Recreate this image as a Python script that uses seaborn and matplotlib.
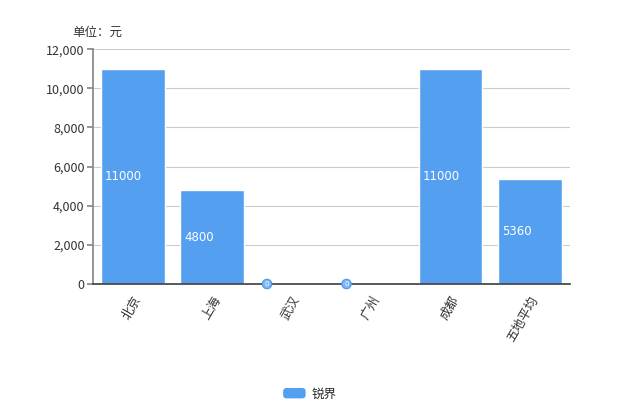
import matplotlib
matplotlib.use("Agg")
import matplotlib.pyplot as plt
import matplotlib.ticker as mticker
from matplotlib.patches import FancyBboxPatch, Patch
from matplotlib.legend_handler import HandlerPatch
import seaborn as sns
import pandas as pd

cities = ['北京', '上海', '武汉', '广州', '成都', '五地平均']
prices = [11000, 4800, 0, 0, 11000, 5360]
series_name = '锐界'
bar_color = '#559ff0'

sns.set_theme(style='white')
plt.rcParams['font.family'] = ['Noto Sans CJK SC', 'DejaVu Sans']

df = pd.DataFrame({'city': cities, 'price': prices, 'series': series_name})

fig = plt.figure(figsize=(6.2, 4.13), dpi=100)
ax = fig.add_axes([0.15, 0.3123, 0.769, 0.5687])

sns.barplot(data=df, x='city', y='price', hue='series', palette=[bar_color],
            width=0.8, saturation=1, ax=ax, legend=True)

ax.set_ylim(0, 12000)
ax.set_xlim(-0.5, len(cities) - 0.5)
ax.yaxis.set_major_locator(mticker.MultipleLocator(2000))
ax.yaxis.set_major_formatter(mticker.FuncFormatter(lambda v, p: f'{int(v):,}'))
ax.grid(axis='y', color='#cccccc', linewidth=0.8)
ax.set_axisbelow(True)
ax.set_xlabel('')
ax.set_ylabel('')

for s in ['top', 'right']:
    ax.spines[s].set_visible(False)
ax.spines['left'].set_color('#888888')
ax.spines['bottom'].set_color('#444444')
ax.tick_params(axis='y', left=True, length=4, color='#888888', labelsize=9,
               labelcolor='#333333', pad=2)
ax.tick_params(axis='x', bottom=False, labelsize=9, labelcolor='#333333', pad=1)
plt.setp(ax.get_xticklabels(), rotation=60, ha='right', rotation_mode='anchor')

# labels inside bars, left-aligned at mid-height
for i, v in enumerate(prices):
    if v > 0:
        ax.text(i - 0.35, v / 2, str(v), color='white', fontsize=8.5,
                ha='left', va='center', family=['DejaVu Sans'])
    else:
        ax.text(i - 0.31, 0, '0', color='white', fontsize=5, ha='center', va='center',
                family=['DejaVu Sans'],
                bbox=dict(boxstyle='circle,pad=0.25', fc='#7fb5f3', ec='#4f97ea', lw=0.8))

fig.text(0.116, 0.922, '单位：元', fontsize=9, color='#333333', va='center')


class RoundHandler(HandlerPatch):
    def create_artists(self, legend, orig_handle, xdescent, ydescent,
                       width, height, fontsize, trans):
        p = FancyBboxPatch((-xdescent, -ydescent), width, height,
                           boxstyle='round,pad=0,rounding_size=2.5',
                           fc=bar_color, ec='none', transform=trans)
        return [p]


ax.legend_.remove()
fig.legend([Patch(color=bar_color)], [series_name],
           loc='center', bbox_to_anchor=(0.5, 0.046), frameon=False, fontsize=9,
           handlelength=1.8, handleheight=0.9, handletextpad=0.5,
           handler_map={Patch: RoundHandler()})

fig.savefig('out.png', dpi=100, facecolor='white')
